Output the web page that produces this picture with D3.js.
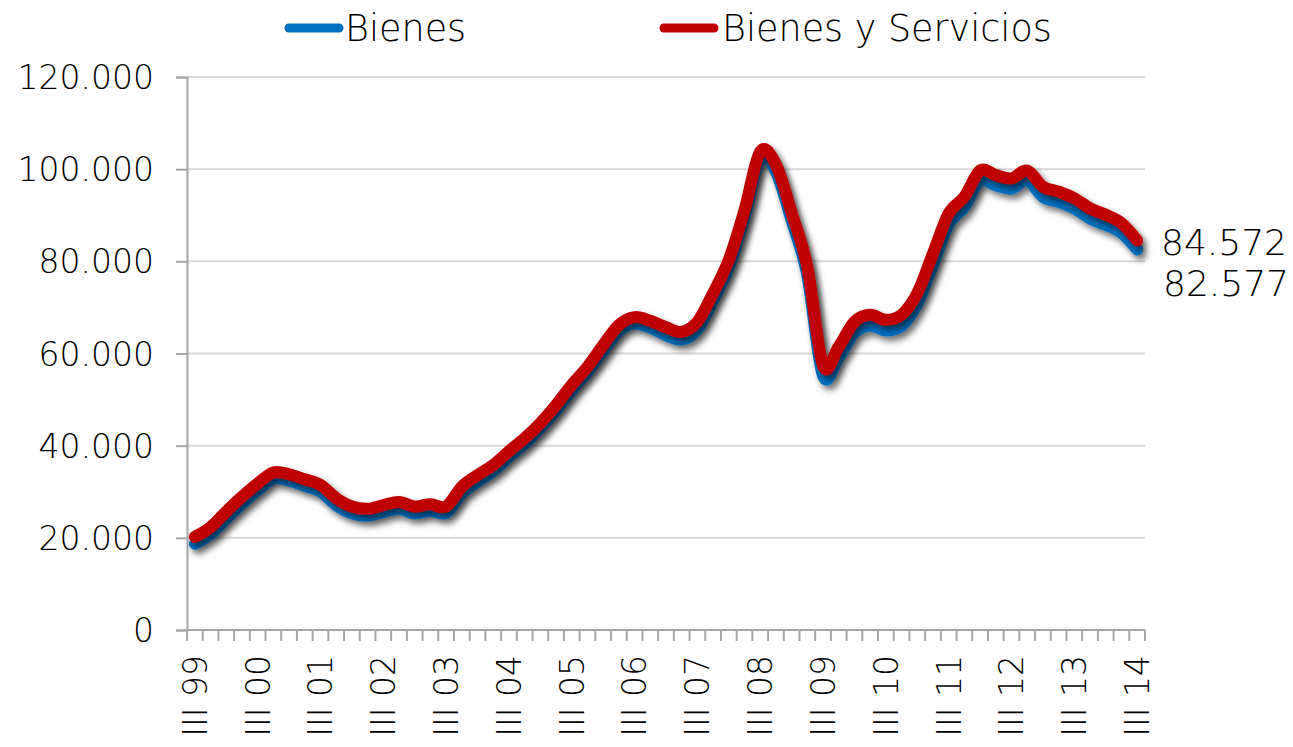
<!DOCTYPE html>
<html><head><meta charset="utf-8">
<script src="https://cdn.jsdelivr.net/npm/d3@7"></script>
<style>
html,body{margin:0;padding:0;background:#fff;}
svg text{font-family:"DejaVu Sans",sans-serif;font-weight:200;fill:#000;}
</style></head>
<body><svg id="c" width="1293" height="747"></svg>
<script>
const quarters = ["III 99","IV 99","I 00","II 00","III 00","IV 00","I 01","II 01","III 01","IV 01","I 02","II 02","III 02","IV 02","I 03","II 03","III 03","IV 03","I 04","II 04","III 04","IV 04","I 05","II 05","III 05","IV 05","I 06","II 06","III 06","IV 06","I 07","II 07","III 07","IV 07","I 08","II 08","III 08","IV 08","I 09","II 09","III 09","IV 09","I 10","II 10","III 10","IV 10","I 11","II 11","III 11","IV 11","I 12","II 12","III 12","IV 12","I 13","II 13","III 13","IV 13","I 14","II 14","III 14"];
const bienes = [18.7,20.8,24.2,27.4,30.3,32.8,32.4,31.3,30.0,27.1,25.3,24.8,25.6,26.3,25.3,25.9,25.4,29.6,32.2,34.5,37.6,40.4,43.8,47.7,52.1,56.0,60.6,64.9,66.5,65.6,64.0,63.0,65.2,71.6,78.8,89.7,102.4,99.5,88.9,77.0,55.2,59.2,64.5,66.0,65.0,66.0,70.8,79.3,88.1,91.8,97.6,96.5,95.8,97.6,94.0,92.9,91.5,89.3,87.9,86.2,82.577];
const bienesServicios = [20.2,22.3,25.7,28.9,31.8,34.2,33.8,32.7,31.5,28.6,26.8,26.3,27.1,27.8,26.8,27.3,26.8,31.1,33.6,35.8,38.8,41.6,44.9,48.8,53.2,57.1,61.8,66.2,67.9,67.1,65.7,64.7,66.9,73.1,80.3,91.1,103.8,101.0,90.5,78.8,57.4,61.5,66.9,68.4,67.3,68.4,73.1,81.7,90.4,94.0,99.7,98.7,98.0,99.7,96.2,95.1,93.7,91.5,90.1,88.3,84.572];
const yTicks = [0,20,40,60,80,100,120];
const yTickLabels = ["0","20.000","40.000","60.000","80.000","100.000","120.000"];
const seriesNames = ["Bienes","Bienes y Servicios"];
const colors = ["#0070C0","#C00000"];
const endLabels = ["84.572","82.577"];

const svg = d3.select("#c");
const L=187, R=1145, T=77, B=630;
const x = d3.scaleBand().domain(quarters).range([L,R]);
const y = d3.scaleLinear().domain([0,120]).range([B,T]);

const defs = svg.append("defs");
const f = defs.append("filter").attr("id","sh").attr("x","-10%").attr("y","-10%").attr("width","120%").attr("height","120%");
f.append("feDropShadow").attr("dx",3.5).attr("dy",4.5).attr("stdDeviation",3).attr("flood-color","#000").attr("flood-opacity",0.55);

// gridlines
svg.append("g").selectAll("line").data(yTicks.slice(1)).join("line")
  .attr("x1",L).attr("x2",R).attr("y1",d=>y(d)).attr("y2",d=>y(d))
  .attr("stroke","#D9D9D9").attr("stroke-width",2);

// y axis
const ya = svg.append("g").attr("transform",`translate(${L},0)`)
  .call(d3.axisLeft(y).tickValues(yTicks).tickFormat((d,i)=>yTickLabels[i]).tickSize(11).tickPadding(22));
ya.select(".domain").attr("stroke","#A6A6A6").attr("stroke-width",2);
ya.selectAll(".tick line").attr("stroke","#A6A6A6").attr("stroke-width",2);
ya.selectAll("text").style("font-size","33px").attr("dy","0.35em");

// x axis
const xa = svg.append("g").attr("transform",`translate(0,${B})`);
xa.append("line").attr("x1",L).attr("x2",R).attr("stroke","#A6A6A6").attr("stroke-width",2);
const bounds = quarters.map(q=>x(q)).concat([R]);
xa.selectAll(".tk").data(bounds).join("line").attr("class","tk")
  .attr("x1",d=>d).attr("x2",d=>d).attr("y1",0).attr("y2",11)
  .attr("stroke","#A6A6A6").attr("stroke-width",2);
xa.selectAll(".lb").data(quarters.filter((q,i)=>i%4===0)).join("text").attr("class","lb")
  .attr("transform",d=>`translate(${x(d)+x.bandwidth()/2},25) rotate(-90)`)
  .attr("text-anchor","end").attr("dy","0.36em").style("font-size","33px").text(d=>d);

// lines
const line = d3.line().x((d,i)=>x(quarters[i])+x.bandwidth()/2).y(d=>y(d)).curve(d3.curveCatmullRom.alpha(0));
[bienes,bienesServicios].forEach((s,k)=>{
  svg.append("path").datum(s).attr("d",line).attr("fill","none")
    .attr("stroke",colors[k]).attr("stroke-width",12).attr("stroke-linejoin","round").attr("stroke-linecap","round")
    .attr("filter","url(#sh)");
});

// end labels
svg.append("text").attr("x",1161).attr("y",242).attr("dy","0.36em").style("font-size","36px").text(endLabels[0]);
svg.append("text").attr("x",1163).attr("y",283).attr("dy","0.36em").style("font-size","36px").text(endLabels[1]);

// legend
const lg = [{x:285,tx:345},{x:660,tx:722}];
seriesNames.forEach((n,k)=>{
  svg.append("line").attr("x1",lg[k].x+4).attr("x2",lg[k].x+54).attr("y1",28).attr("y2",28)
    .attr("stroke",colors[k]).attr("stroke-width",9).attr("stroke-linecap","round");
  svg.append("text").attr("x",lg[k].tx).attr("y",41).style("font-size","36.5px").text(n);
});
</script></body></html>
